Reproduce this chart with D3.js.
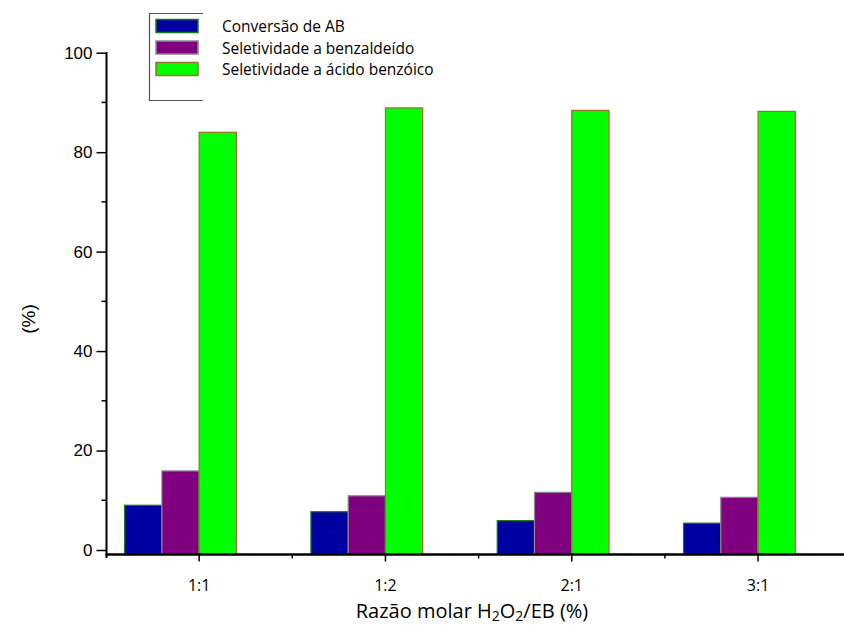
<!DOCTYPE html>
<html><head><meta charset="utf-8">
<script src="https://cdn.jsdelivr.net/npm/d3@7"></script>
<style>body{margin:0;background:#fff;} svg{display:block;}</style>
</head><body>
<svg id="c" width="844" height="631"></svg>
<script>
const categories = ["1:1", "1:2", "2:1", "3:1"];
const seriesNames = ["Conversão de AB", "Seletividade a benzaldeído", "Seletividade a ácido benzóico"];
const conversao = [9.0, 7.7, 5.9, 5.4];
const benzaldeido = [15.9, 10.9, 11.6, 10.6];
const acidoBenzoico = [84.0, 88.9, 88.4, 88.2];
const yTicks = [0, 20, 40, 60, 80, 100];
const yMinorTicks = [10, 30, 50, 70, 90];
const fills = ["#0000a0", "#800080", "#00ff00"];
const strokes = ["#1a7a1a", "#8a8a8a", "#a0702a"];

const series = [conversao, benzaldeido, acidoBenzoico];
const svg = d3.select("#c");
const axisX = 106.5, axisY = 554.5;

const x = d3.scaleBand().domain(categories).range([106, 106 + 4 * 186.3]).padding(0);
const y = d3.scaleLinear().domain([0, 100]).range([550, 52.7]);
const bw = x.bandwidth() * 0.2;

// bars
series.forEach((vals, si) => {
  svg.append("g").selectAll("rect").data(vals).join("rect")
    .attr("x", (d, i) => x(categories[i]) + x.bandwidth() / 2 + (si - 2) * bw)
    .attr("y", d => y(d))
    .attr("width", bw)
    .attr("height", d => axisY - y(d))
    .attr("fill", fills[si])
    .attr("stroke", strokes[si])
    .attr("stroke-width", 1.2);
});

// y axis
const yAxis = d3.axisLeft(y).tickValues(yTicks).tickSize(10).tickSizeOuter(0).tickFormat(d3.format("d"));
const gy = svg.append("g").attr("transform", `translate(${axisX},0)`).call(yAxis);
gy.select(".domain").remove();
gy.selectAll(".tick line").attr("stroke", "#000").attr("stroke-width", 1.5);
gy.selectAll(".tick text").attr("font-family", "Liberation Sans, Arial, sans-serif").attr("font-size", 17).attr("fill", "#000").attr("x", -14);
svg.append("g").selectAll("line").data(yMinorTicks).join("line")
  .attr("x1", axisX - 5).attr("x2", axisX).attr("y1", d => y(d)).attr("y2", d => y(d))
  .attr("stroke", "#000").attr("stroke-width", 1.5);
svg.append("line").attr("x1", axisX).attr("x2", axisX).attr("y1", 52).attr("y2", 558)
  .attr("stroke", "#000").attr("stroke-width", 2);

// x axis
const xAxis = d3.axisBottom(x).tickSize(7).tickSizeOuter(0);
const gx = svg.append("g").attr("transform", `translate(0,${axisY})`).call(xAxis);
gx.select(".domain").remove();
gx.selectAll(".tick line").attr("stroke", "#000").attr("stroke-width", 1.5);
gx.selectAll(".tick text").attr("font-family", "Open Sans, sans-serif").attr("font-size", 16).attr("fill", "#000").attr("y", 25);
const minorX = categories.slice(1).map(c => x(c));
svg.append("g").selectAll("line").data(minorX).join("line")
  .attr("x1", d => d).attr("x2", d => d).attr("y1", axisY).attr("y2", axisY + 4)
  .attr("stroke", "#000").attr("stroke-width", 1.5);
svg.append("line").attr("x1", axisX - 1).attr("x2", 844).attr("y1", axisY).attr("y2", axisY)
  .attr("stroke", "#000").attr("stroke-width", 2.5);

// axis titles
svg.append("text").attr("transform", "translate(28,319) rotate(-90)")
  .attr("text-anchor", "middle").attr("dominant-baseline", "central")
  .attr("font-family", "Liberation Sans, Arial, sans-serif").attr("font-size", 19).text("(%)");
const xt = svg.append("text").attr("x", 472).attr("y", 618).attr("text-anchor", "middle")
  .attr("font-family", "Open Sans, sans-serif").attr("font-size", 20);
xt.append("tspan").text("Razão molar H");
xt.append("tspan").attr("font-size", 14).attr("dy", 3).text("2");
xt.append("tspan").attr("dy", -3).text("O");
xt.append("tspan").attr("font-size", 14).attr("dy", 3).text("2");
xt.append("tspan").attr("dy", -3).text("/EB (%)");

// legend
svg.append("path").attr("d", "M203,13.5 H149.5 V100.5 H203").attr("fill", "none")
  .attr("stroke", "#555").attr("stroke-width", 1.2);
const legY = [19.5, 41, 62.5];
seriesNames.forEach((n, i) => {
  svg.append("rect").attr("x", 156).attr("y", legY[i]).attr("width", 42).attr("height", 13)
    .attr("fill", fills[i]).attr("stroke", strokes[i]).attr("stroke-width", 1.5);
  svg.append("text").attr("x", 222).attr("y", legY[i] + 6.5).attr("dominant-baseline", "central")
    .attr("font-family", "Open Sans, sans-serif").attr("font-size", 15.5).text(n);
});
</script>
</body></html>
